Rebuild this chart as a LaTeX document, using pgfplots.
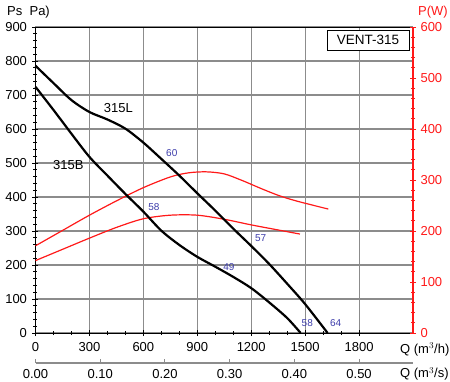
\documentclass[border=0pt]{standalone}
\usepackage{pgfplots}
\pgfplotsset{compat=1.18}
\usepackage{fontspec}
\setmainfont{Liberation Sans}
\definecolor{gridgray}{RGB}{140,140,140}
\definecolor{lblblue}{RGB}{60,60,170}
\definecolor{pred}{RGB}{255,25,25}
\pgfplotsset{
  common/.style={scale only axis, width=377.5pt, height=306pt, xmin=0, xmax=2100,
    at={(0pt,0pt)}, anchor=south west,
    /pgf/number format/1000 sep={}, /pgf/number format/assume math mode=true,
    ticklabel style={font=\fontsize{13}{15}\selectfont},
    tick align=center, major tick length=6pt, minor tick length=4pt},
}
\begin{document}
\begin{tikzpicture}
\useasboundingbox (-35.5pt,-48pt) rectangle (414.5pt,333pt);
% grid + left/bottom axes
\begin{axis}[common, ymin=0, ymax=900,
  xtick={0,300,...,1800}, ytick={0,100,...,900},
  minor x tick num=2, minor y tick num=4,
  xmajorgrids, ymajorgrids, grid style={gridgray, line width=1.1pt},
  axis line style={black, line width=1pt},
  tick style={black, line width=0.8pt},
  xticklabel style={yshift=-3pt}, yticklabel style={xshift=-2pt},
  xtick pos=bottom, ytick pos=left]
\end{axis}
% right P(W) axis with power curves
\begin{axis}[common, ymin=0, ymax=600,
  axis y line*=right, axis x line=none,
  y axis line style={pred, line width=1.2pt},
  ytick={0,100,...,600}, minor y tick num=4,
  tick style={pred, line width=0.8pt},
  yticklabel style={pred, xshift=1pt}]
\addplot[pred, line width=1.2pt, smooth] coordinates {
 (0,171) (150,201) (300,231) (450,259) (600,285) (750,306) (850,314) (950,316)
 (1050,312) (1150,299) (1250,284) (1350,270) (1450,259) (1629,243)};
\addplot[pred, line width=1.2pt, smooth] coordinates {
 (0,142) (150,164) (300,186) (450,207) (600,224) (750,231) (900,231)
 (1050,223) (1200,212) (1350,202) (1471,194)};
\end{axis}
% pressure curves
\begin{axis}[common, ymin=0, ymax=900, hide axis, clip=false]
\addplot[black, line width=2.2pt, smooth] coordinates {
 (0,786) (100,735) (200,685) (300,650) (400,628) (500,601) (600,560)
 (700,512) (800,463) (900,411) (1000,360) (1100,307) (1200,256) (1300,203)
 (1400,145) (1500,85) (1625,0)};
\addplot[black, line width=2.2pt, smooth] coordinates {
 (0,724) (100,656) (200,586) (300,518) (400,463) (500,409) (600,357)
 (700,301) (800,259) (900,224) (1000,195) (1100,165) (1200,132) (1300,90)
 (1400,44) (1475,0)};
\node[lblblue, font=\fontsize{10}{11}\selectfont] at (axis cs:758,528) {60};
\node[lblblue, font=\fontsize{10}{11}\selectfont] at (axis cs:659,370) {58};
\node[lblblue, font=\fontsize{10}{11}\selectfont] at (axis cs:1253,278) {57};
\node[lblblue, font=\fontsize{10}{11}\selectfont] at (axis cs:1076,195) {49};
\node[lblblue, font=\fontsize{10}{11}\selectfont] at (axis cs:1512,28) {58};
\node[lblblue, font=\fontsize{10}{11}\selectfont] at (axis cs:1670,28) {64};
\node[font=\fontsize{13}{15}\selectfont] at (axis cs:461,661) {315L};
\node[font=\fontsize{13}{15}\selectfont] at (axis cs:183,494) {315B};
\end{axis}
% m3/s axis
\begin{axis}[scale only axis, width=377.5pt, height=1pt, at={(0pt,-30pt)}, anchor=south west,
  xmin=0, xmax=0.5833333, ymin=0, ymax=1,
  axis x line*=bottom, axis y line=none,
  x axis line style={gridgray, line width=1.4pt},
  xtick={0,0.1,...,0.5}, tick align=inside, major tick length=4pt,
  tick style={gridgray, line width=1pt},
  xticklabel style={yshift=-3pt, font=\fontsize{13}{15}\selectfont, /pgf/number format/fixed, /pgf/number format/fixed zerofill, /pgf/number format/precision=2},
  /pgf/number format/assume math mode=true]
\end{axis}
\node[draw=black, fill=white, line width=0.8pt, font=\fontsize{13.5}{15}\selectfont,
  minimum width=82pt, minimum height=20pt, inner sep=0pt] at (332.5pt,293pt) {VENT-315};
\node[anchor=west, font=\fontsize{13}{15}\selectfont, inner sep=0pt] at (-28.5pt,320.5pt) {Ps~~Pa)};
\node[anchor=west, pred, font=\fontsize{13}{15}\selectfont, inner sep=0pt] at (382.5pt,321pt) {P(W)};
\node[anchor=west, font=\fontsize{13}{15}\selectfont, inner sep=0pt] at (364.5pt,-16.5pt) {Q (m$^3$/h)};
\node[anchor=west, font=\fontsize{13}{15}\selectfont, inner sep=0pt] at (364.5pt,-41pt) {Q (m$^3$/s)};
\end{tikzpicture}
\end{document}
